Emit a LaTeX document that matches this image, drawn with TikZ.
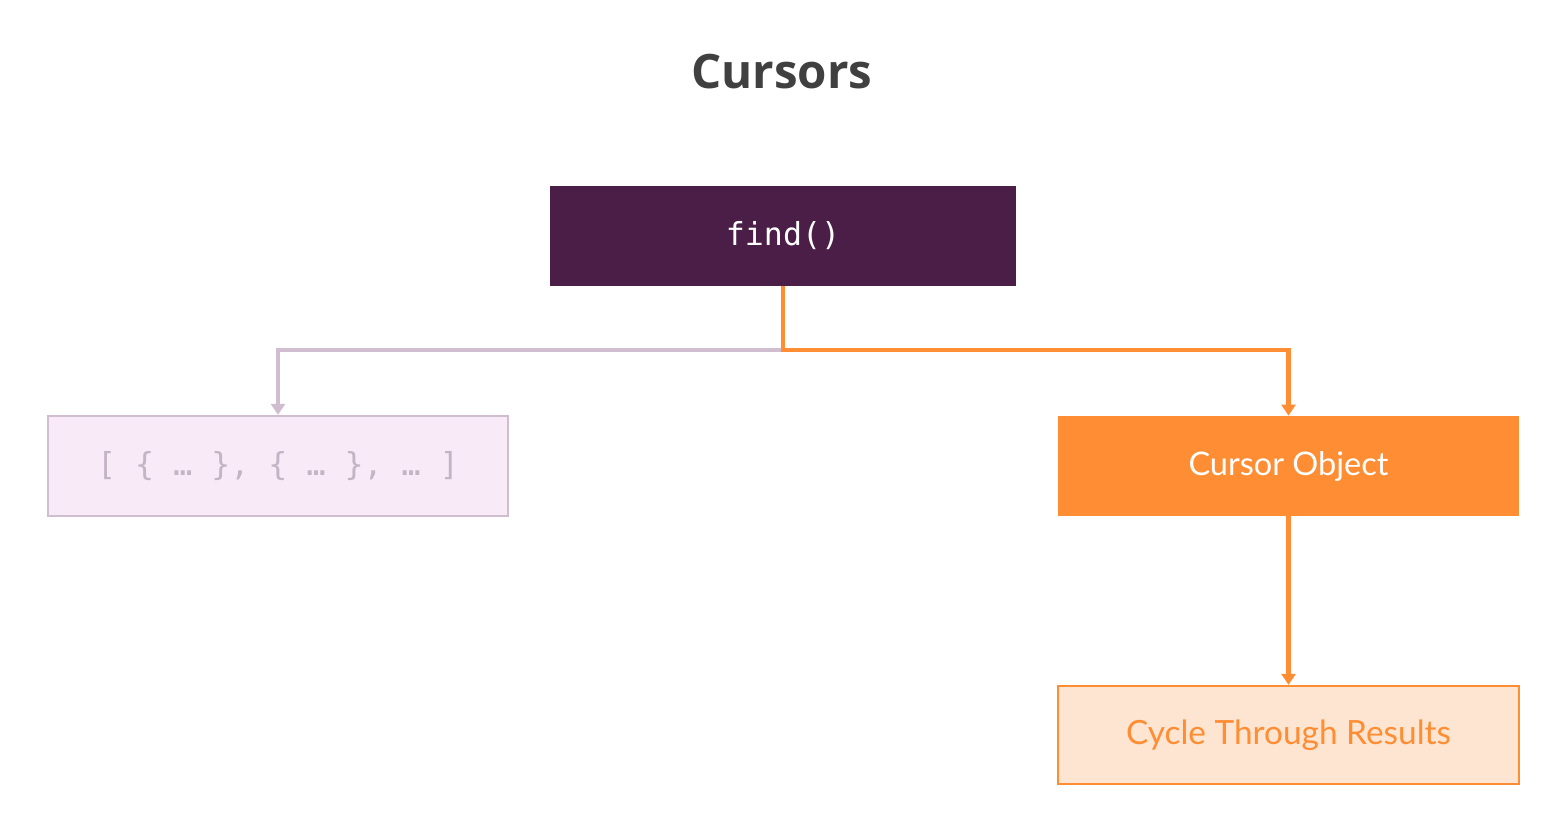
\documentclass[tikz,border=0pt]{standalone}
\usepackage{fontspec}
\setmainfont{Lato}
\setmonofont{DejaVu Sans Mono}
\newfontfamily\titlefont{Open Sans}
\usetikzlibrary{arrows.meta, positioning, calc}
\definecolor{ungutua}{RGB}{74,30,71}
\definecolor{oranye}{RGB}{255,141,51}
\definecolor{oranyemuda}{RGB}{253,229,210}
\definecolor{pinkmuda}{RGB}{249,234,248}
\definecolor{pinkgaris}{RGB}{208,189,208}
\definecolor{abutulisan}{RGB}{196,180,196}
\definecolor{judulabu}{RGB}{64,64,64}

\begin{document}
\begin{tikzpicture}[x=0.02cm, y=-0.02cm,
        kotak/.style={rectangle, minimum width=9.22cm, minimum height=2cm, inner sep=0pt},
        panah/.style={-{Triangle[width=0.28cm, length=0.22cm]}, line width=2.3pt}]
        \useasboundingbox (0,0) rectangle (1541,817);
        \node[font=\titlefont\bfseries\fontsize{27}{32}\selectfont, text=judulabu] (judul) at (782,72) {Cursors};
        \node[kotak, minimum width=9.32cm, fill=ungutua, text=white,
              font=\ttfamily\fontsize{18}{21}\selectfont] (find) at (783,236) {find()};
        \node[kotak, minimum width=9.2cm, fill=pinkmuda, draw=pinkgaris, line width=1.3pt, text=abutulisan,
              font=\ttfamily\fontsize{18}{21}\selectfont] (larik) at (278,466) {[ \{ … \}, \{ … \}, … ]};
        \node[kotak, fill=oranye, text=white, font=\fontsize{18.5}{22}\selectfont] (kursor) at (1288.5,466) {Cursor Object};
        \node[kotak, minimum height=1.96cm, fill=oranyemuda, draw=oranye, line width=1.3pt, text=oranye,
              font=\fontsize{19}{23}\selectfont] (siklus) at (1288.5,735) {Cycle Through Results};
        \coordinate (cabang) at (783,350);
        \draw[panah, pinkgaris] (cabang) -| (larik.north);
        \draw[panah, oranye] (find.south) -- (cabang) -| (kursor.north);
        \draw[panah, oranye] (kursor.south) -- (siklus.north);
    \end{tikzpicture}
\end{document}
